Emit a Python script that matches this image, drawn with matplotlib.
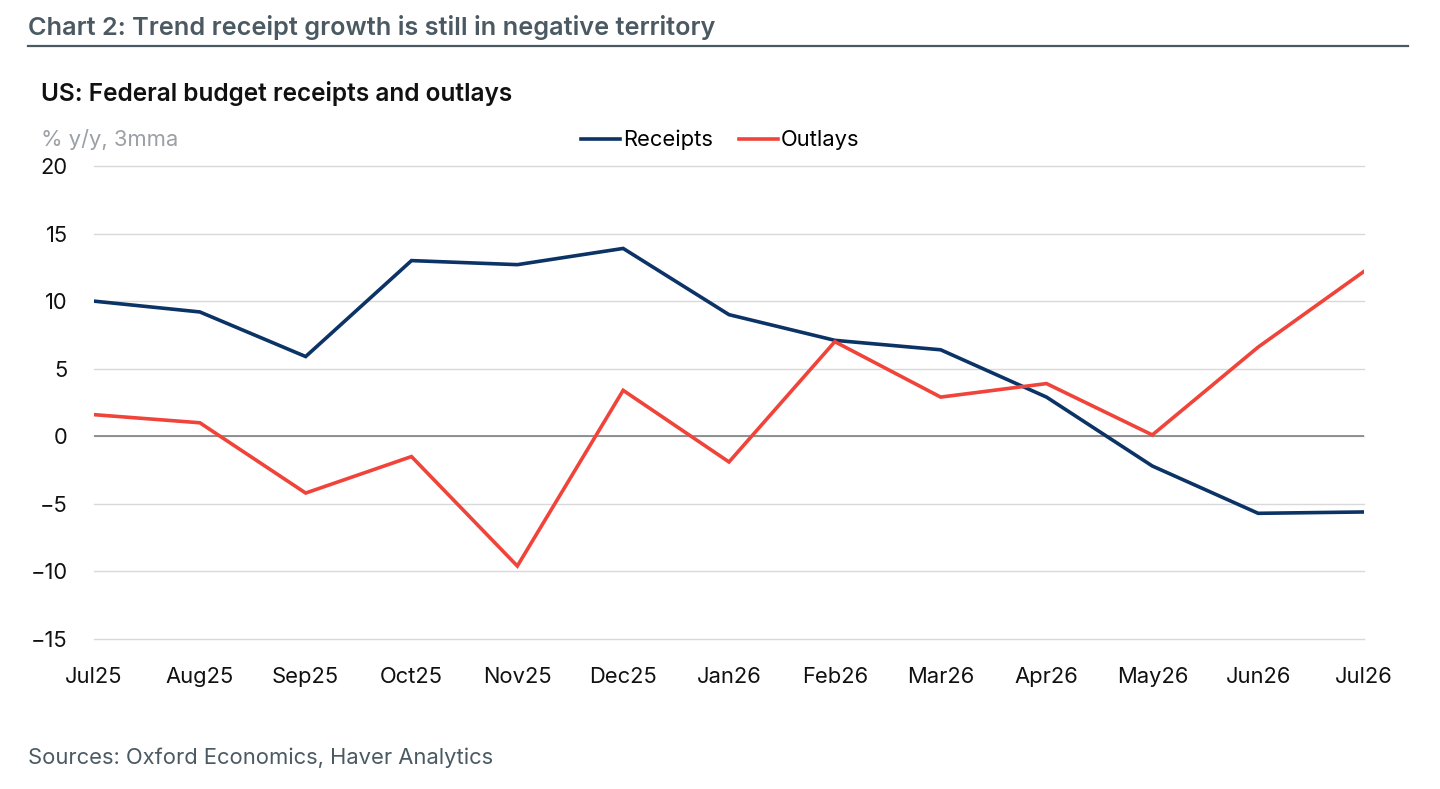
import numpy as np
import matplotlib
matplotlib.use("Agg")
import matplotlib.pyplot as plt
from matplotlib.lines import Line2D

# données
mois = ["Jul25", "Aug25", "Sep25", "Oct25", "Nov25", "Dec25", "Jan26",
        "Feb26", "Mar26", "Apr26", "May26", "Jun26", "Jul26"]
receipts = [10.0, 9.2, 5.9, 13.0, 12.7, 13.9, 9.0, 7.1, 6.4, 2.9, -2.2, -5.7, -5.6]
outlays = [1.6, 1.0, -4.2, -1.5, -9.6, 3.4, -1.9, 7.0, 2.9, 3.9, 0.1, 6.6, 12.2]
yticks = [-15, -10, -5, 0, 5, 10, 15, 20]

plt.rcParams['font.family'] = ['Inter', 'DejaVu Sans']

fig = plt.figure(figsize=(14.4, 7.89), dpi=100)
ax = fig.add_axes([94/1440, 1-639/789, 1270/1440, 473/789])

x = np.arange(len(mois))
ax.plot(x, receipts, color='#0b3366', lw=2.6, label='Receipts', solid_joinstyle='miter')
ax.plot(x, outlays, color='#f0443a', lw=2.6, label='Outlays', solid_joinstyle='miter')

ax.set_xlim(0, len(mois)-1)
ax.set_ylim(-15, 20)
ax.set_yticks(yticks)
ax.set_yticklabels([str(v).replace('-', '\u2212') for v in yticks])
ax.set_xticks(x)
ax.set_xticklabels(mois)
ax.grid(axis='y', color='#d9d9d9', lw=1)
for g in ax.get_ygridlines():
    g.set_clip_on(False)
ax.axhline(0, color='#7f7f7f', lw=1.2, zorder=1)
ax.set_axisbelow(True)
for s in ax.spines.values():
    s.set_visible(False)
ax.tick_params(axis='both', length=0, labelsize=15.8, colors='#111111')
ax.tick_params(axis='y', pad=19)
ax.tick_params(axis='x', pad=20)

# titres et textes
fig.text(28/1440, 1-27/789, "Chart 2: Trend receipt growth is still in negative territory",
         fontsize=18.2, color='#4a5962', fontweight='semibold', va='center', ha='left')
fig.add_artist(Line2D([28/1440, 1408/1440], [1-46/789, 1-46/789], color='#4a5962', lw=1.6))
fig.text(41/1440, 1-94/789, "US: Federal budget receipts and outlays",
         fontsize=17.6, color='#111111', fontweight='semibold', va='center', ha='left')
fig.text(41/1440, 1-139/789, "% y/y, 3mma", fontsize=15.8, color='#9aa0a6',
         va='center', ha='left')
fig.text(28/1440, 1-758/789, "Sources: Oxford Economics, Haver Analytics",
         fontsize=15.8, color='#4a5962', va='center', ha='left')

leg = fig.legend(loc='center', bbox_to_anchor=(720/1440, 1-140/789), ncol=2,
                 frameon=False, fontsize=15.8, handlelength=1.8, handletextpad=0.1,
                 columnspacing=1.2)

fig.savefig("out.png", dpi=100)
